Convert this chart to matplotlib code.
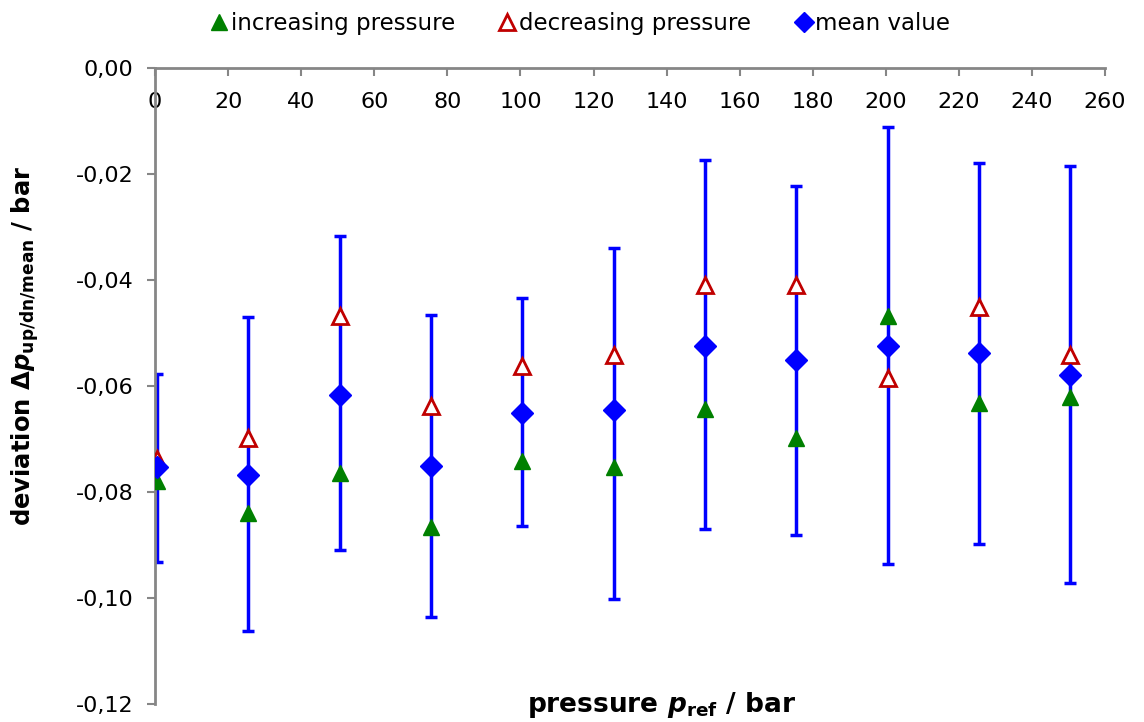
import matplotlib
matplotlib.use("Agg")
import matplotlib.pyplot as plt
import matplotlib.ticker as ticker
from matplotlib.lines import Line2D

# data
p_ref = [0.6, 25.4, 50.5, 75.5, 100.5, 125.5, 150.5, 175.5, 200.5, 225.5, 250.5]
dp_up = [-0.0779, -0.0840, -0.0764, -0.0866, -0.0742, -0.0753, -0.0643, -0.0698, -0.0468, -0.0633, -0.0621]
dp_dn = [-0.0738, -0.0698, -0.0468, -0.0638, -0.0562, -0.0542, -0.0409, -0.0409, -0.0585, -0.0451, -0.0542]
dp_mean = [-0.0753, -0.0768, -0.0617, -0.0751, -0.0651, -0.0646, -0.0525, -0.0551, -0.0525, -0.0538, -0.0579]
err_top = [-0.0577, -0.0470, -0.0317, -0.0466, -0.0434, -0.0340, -0.0174, -0.0223, -0.0111, -0.0179, -0.0185]
err_bot = [-0.0932, -0.1062, -0.0909, -0.1036, -0.0864, -0.1002, -0.0870, -0.0881, -0.0936, -0.0898, -0.0972]

plt.rcParams['font.family'] = ['DejaVu Sans']
plt.rcParams['mathtext.fontset'] = 'custom'
plt.rcParams['mathtext.rm'] = 'DejaVu Sans'
plt.rcParams['mathtext.it'] = 'DejaVu Sans:italic'
plt.rcParams['mathtext.bf'] = 'DejaVu Sans:bold'
plt.rcParams['mathtext.bfit'] = 'DejaVu Sans:bold:italic'

grey = "#868686"

fig = plt.figure(figsize=(11.44, 7.22), dpi=100)
ax = fig.add_axes([0.1355, 0.025, 0.8305, 0.8808])

yerr_lo = [m - b for m, b in zip(dp_mean, err_bot)]
yerr_hi = [t - m for m, t in zip(dp_mean, err_top)]
ax.errorbar(p_ref, dp_mean, yerr=[yerr_lo, yerr_hi], fmt="none", ecolor="#0000ff",
            elinewidth=2.5, capsize=4, capthick=2.5, zorder=2)
ax.plot(p_ref, dp_up, "^", color="#008000", ms=11, mec="#008000", zorder=3)
ax.plot(p_ref, dp_dn, "^", color="#c00000", ms=11, mfc="white", mew=2, zorder=3)
ax.plot(p_ref, dp_mean, "D", color="#0000ff", ms=11.5, zorder=4)

ax.set_xlim(0, 260)
ax.set_ylim(-0.12, 0.0)
ax.xaxis.set_major_locator(ticker.MultipleLocator(20))
ax.yaxis.set_major_locator(ticker.MultipleLocator(0.02))
ax.yaxis.set_major_formatter(ticker.FuncFormatter(lambda v, p: ("%.2f" % v).replace(".", ",").replace("-0,00", "0,00")))

ax.spines['top'].set_visible(False)
ax.spines['right'].set_visible(False)
ax.spines['bottom'].set_position(('data', 0.0))
ax.spines['bottom'].set_color(grey)
ax.spines['left'].set_color(grey)
ax.spines['bottom'].set_linewidth(2)
ax.spines['left'].set_linewidth(2)
ax.tick_params(axis='both', direction='out', length=5.5, width=1.5, color=grey, labelsize=16)
ax.tick_params(axis='x', pad=12)
ax.tick_params(axis='y', pad=10)

fig.text(0.022, 0.521, r'deviation $\mathbf{\Delta}\mathbfit{p}_{\mathbf{up/dn/mean}}$ / bar',
         rotation=90, fontsize=17.5, fontweight='bold', ha='center', va='center')
fig.text(0.578, 0.024, r'pressure $\mathbfit{p}_{\mathbf{ref}}$ / bar',
         fontsize=19, fontweight='bold', ha='center', va='center')

handles = [
    Line2D([], [], ls='none', marker='^', color='#008000', ms=11),
    Line2D([], [], ls='none', marker='^', color='#c00000', mfc='white', mew=2, ms=11),
    Line2D([], [], ls='none', marker='D', color='#0000ff', ms=10),
]
fig.legend(handles, ['increasing pressure', 'decreasing pressure', 'mean value'],
           loc='center', bbox_to_anchor=(0.507, 0.968), ncol=3, frameon=False,
           fontsize=16.5, handletextpad=0.1, columnspacing=1.9, handlelength=0.8)

fig.savefig('out.png', dpi=100)
